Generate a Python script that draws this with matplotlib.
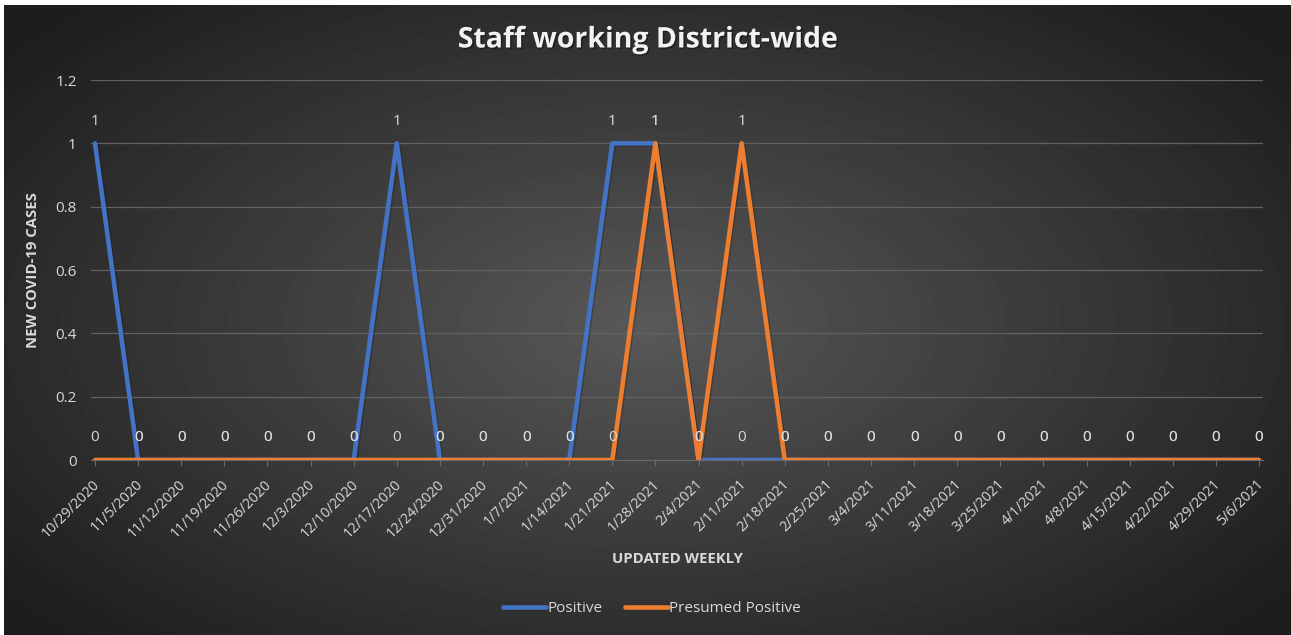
import numpy as np
import matplotlib
matplotlib.use('Agg')
import matplotlib.pyplot as plt
import matplotlib.patheffects as pe
from matplotlib.transforms import ScaledTranslation

# dados
datas = ['10/29/2020', '11/5/2020', '11/12/2020', '11/19/2020', '11/26/2020',
         '12/3/2020', '12/10/2020', '12/17/2020', '12/24/2020', '12/31/2020',
         '1/7/2021', '1/14/2021', '1/21/2021', '1/28/2021', '2/4/2021',
         '2/11/2021', '2/18/2021', '2/25/2021', '3/4/2021', '3/11/2021',
         '3/18/2021', '3/25/2021', '4/1/2021', '4/8/2021', '4/15/2021',
         '4/22/2021', '4/29/2021', '5/6/2021']
positive = [1, 0, 0, 0, 0, 0, 0, 1, 0, 0, 0, 0, 1, 1,
            0, 0, 0, 0, 0, 0, 0, 0, 0, 0, 0, 0, 0, 0]
presumed = [0, 0, 0, 0, 0, 0, 0, 0, 0, 0, 0, 0, 0, 1,
            0, 1, 0, 0, 0, 0, 0, 0, 0, 0, 0, 0, 0, 0]
y_ticks = [0, 0.2, 0.4, 0.6, 0.8, 1, 1.2]

plt.rcParams['font.family'] = ['Open Sans', 'DejaVu Sans']
txt = '#d9d9d9'

fig = plt.figure(figsize=(12.91, 6.35), dpi=100)
fig.patch.set_facecolor('white')

# fundo com gradiente radial
bg = fig.add_axes([4 / 1291, 0, 1 - 4 / 1291, 1 - 5 / 635])
bg.set_axis_off()
h, w = 630, 1287
yy, xx = np.mgrid[0:h, 0:w]
d = np.sqrt(((xx - 640) / 780) ** 2 + ((yy - 320) / 420) ** 2)
d = np.clip(d / 1.05, 0, 1)
cor = 0.35 - (0.35 - 0.115) * d ** 0.95
bg.imshow(cor, cmap='gray', vmin=0, vmax=1, aspect='auto',
          extent=[0, 1, 0, 1], interpolation='bilinear')
bg.set_xlim(0, 1)
bg.set_ylim(0, 1)

ax = fig.add_axes([90.7 / 1291, (635 - 460) / 635, 1172.6 / 1291, 380 / 635])
ax.patch.set_alpha(0)
x = np.arange(len(datas))

sombra = [pe.SimpleLineShadow(offset=(1, -1), shadow_color='black', alpha=0.2),
          pe.Normal()]
ax.plot(x, positive, color='#4472C4', lw=3.3, solid_joinstyle='round',
        solid_capstyle='round', label='Positive', path_effects=sombra, zorder=3)
ax.plot(x, presumed, color='#ED7D31', lw=3.3, solid_joinstyle='round',
        solid_capstyle='round', label='Presumed Positive', path_effects=sombra, zorder=4)

# rótulos de dados
for serie in [positive, presumed]:
    for i, v in enumerate(serie):
        ax.annotate(f'{v}', (i, v), xytext=(0, 16), textcoords='offset points',
                    ha='center', va='center', fontsize=11, color=txt, zorder=5)

ax.set_xlim(-0.1, len(datas) - 0.9)
ax.set_ylim(0, 1.2)
ax.set_yticks(y_ticks)
ax.set_yticklabels(['0', '0.2', '0.4', '0.6', '0.8', '1', '1.2'])
ax.set_xticks(x)
ax.set_xticklabels(datas, rotation=45, ha='right', rotation_mode='anchor')
ax.tick_params(axis='y', length=0, labelsize=11, labelcolor=txt, pad=10)
ax.tick_params(axis='x', length=4, color='#6a6a6a', labelsize=10.2,
               labelcolor=txt, pad=8)
desloc = ScaledTranslation(-3 / 100, 0, fig.dpi_scale_trans)
for lab in ax.get_xticklabels():
    lab.set_transform(lab.get_transform() + desloc)
ax.grid(axis='y', color='#626262', lw=0.9)
ax.set_axisbelow(True)
for s in ['top', 'right', 'left']:
    ax.spines[s].set_visible(False)
ax.spines['bottom'].set_color('#6a6a6a')

ax.set_ylabel('NEW COVID-19 CASES', color=txt, fontsize=10.75, fontweight='bold')
ax.yaxis.set_label_coords(-0.0435, 0.5)
fig.text(677 / 1291, 1 - 559 / 635, 'UPDATED WEEKLY', color=txt, fontsize=10.75,
         fontweight='bold', ha='center', va='center')

fig.text(648 / 1291, 1 - 40 / 635, 'Staff working District-wide', color='#f2f2f2',
         fontsize=20.5, fontweight='bold', ha='center', va='center',
         path_effects=[pe.withSimplePatchShadow(offset=(1, -1),
                                                shadow_rgbFace='black', alpha=0.4)])

leg = fig.legend(loc='center', bbox_to_anchor=(652 / 1291, 1 - 609 / 635), ncol=2,
                 frameon=False, fontsize=11, handlelength=2.8, handletextpad=0.1,
                 columnspacing=1.5)
for t in leg.get_texts():
    t.set_color(txt)
for l in leg.get_lines():
    l.set_path_effects([])
    l.set_linewidth(3.3)

fig.savefig('out.png', dpi=100)
